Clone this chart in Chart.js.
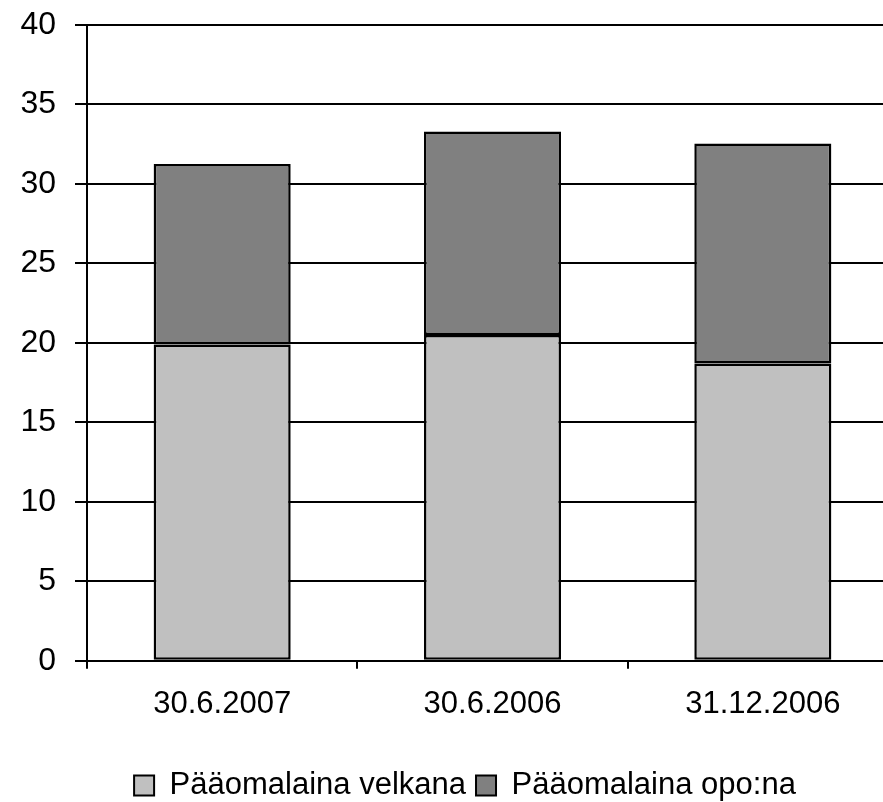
<!DOCTYPE html>
<html>
<head>
<meta charset="utf-8">
<script src="https://cdn.jsdelivr.net/npm/chart.js@4"></script>
<style>
  html, body { margin: 0; padding: 0; background: #fff; overflow: hidden; }
  #wrap { width: 980px; height: 802px; }
</style>
</head>
<body>
<div id="wrap"><canvas id="c" width="980" height="802"></canvas></div>
<script>
  // Pääomalaina, milj. (luettu kuvasta)
  var categories = ["30.6.2007", "30.6.2006", "31.12.2006"];
  var velkana = [19.9, 20.5, 18.7];
  var oponA = [11.35, 12.8, 13.85];
  var yTicks = { min: 0, max: 40, step: 5 };

  var FONT = "'Liberation Sans', Arial, sans-serif";

  // legend sits a bit right of the plot centre in the original
  var legendShift = {
    id: "legendShift",
    afterLayout: function (chart) {
      var l = chart.legend;
      if (!l) return;
      l.left += 16; l.right += 16;
      if (l.legendHitBoxes) l.legendHitBoxes.forEach(function (b) { b.left += 16; });
    }
  };

  new Chart(document.getElementById("c"), {
    type: "bar",
    data: {
      labels: categories,
      datasets: [
        { label: "Pääomalaina velkana", data: velkana, backgroundColor: "#c0c0c0",
          borderColor: "#000", borderWidth: 2.5, borderSkipped: false, inflateAmount: 0 },
        { label: "Pääomalaina opo:na", data: oponA, backgroundColor: "#808080",
          borderColor: "#000", borderWidth: 2.5, borderSkipped: false, inflateAmount: 0 }
      ]
    },
    plugins: [legendShift],
    options: {
      responsive: false,
      animation: false,
      layout: { padding: { top: 25, right: 82, bottom: -9, left: 0 } },
      datasets: { bar: { categoryPercentage: 1, barPercentage: 0.507 } },
      plugins: {
        tooltip: { enabled: false },
        legend: {
          position: "bottom",
          labels: {
            color: "#000",
            font: { family: FONT, size: 31 },
            boxWidth: 20, boxHeight: 20, padding: 10,
            generateLabels: function (chart) {
              return chart.data.datasets.map(function (d, i) {
                return { text: d.label, fillStyle: d.backgroundColor, strokeStyle: "#000",
                  lineWidth: 2, datasetIndex: i, fontColor: "#000" };
              });
            }
          }
        }
      },
      scales: {
        x: {
          stacked: true,
          offset: true,
          grid: { display: true, offset: true, drawOnChartArea: false, drawTicks: true,
            tickLength: 8, color: "#000", lineWidth: 2 },
          border: { display: true, color: "#000", width: 2 },
          ticks: { color: "#000", font: { family: FONT, size: 31 }, padding: 17 },
          afterFit: function (s) { s.height += 20; s.paddingLeft = 0; s.paddingRight = 0; }
        },
        y: {
          stacked: true,
          min: yTicks.min, max: yTicks.max,
          grid: { color: "#000", lineWidth: 2, tickLength: 12, drawTicks: true },
          border: { display: true, color: "#000", width: 2 },
          ticks: { stepSize: yTicks.step, color: "#000", font: { family: FONT, size: 32 }, padding: 19 },
          afterFit: function (s) { s.width = 87; s.paddingTop = 0; s.paddingBottom = 0; }
        }
      }
    }
  });
</script>
</body>
</html>
